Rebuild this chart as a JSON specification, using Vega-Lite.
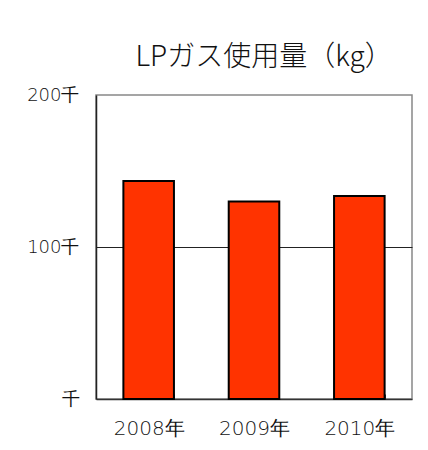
{
  "$schema": "https://vega.github.io/schema/vega-lite/v6.json",
  "autosize": {"type": "none"},
  "width": 316,
  "height": 304,
  "padding": {"left": 96, "top": 95, "right": 16, "bottom": 51},
  "background": "white",
  "title": {
    "text": "LPガス使用量（kg）",
    "font": "Noto Sans CJK JP",
    "fontSize": 28,
    "fontWeight": 300,
    "color": "#111",
    "anchor": "middle",
    "offset": 14,
    "dx": 10
  },
  "data": {
    "values": [
      {"year": "2008年", "usage_thousand_kg": 143.5},
      {"year": "2009年", "usage_thousand_kg": 130},
      {"year": "2010年", "usage_thousand_kg": 133.5}
    ]
  },
  "mark": {"type": "bar", "color": "#FF3300", "stroke": "black", "strokeWidth": 2},
  "encoding": {
    "x": {
      "field": "year",
      "type": "nominal",
      "sort": null,
      "scale": {"paddingInner": 0.52, "paddingOuter": 0.26},
      "axis": {
        "title": null,
        "labelAngle": 0,
        "labelFont": "DejaVu Sans",
        "labelFontSize": 20,
        "labelFontWeight": 200,
        "labelColor": "#111",
        "labelPadding": 24,
        "tickBand": "extent",
        "tickSize": -5,
        "tickColor": "#333",
        "domainColor": "#333",
        "domainWidth": 1.5,
        "grid": false
      }
    },
    "y": {
      "field": "usage_thousand_kg",
      "type": "quantitative",
      "scale": {"domain": [0, 200]},
      "axis": {
        "title": null,
        "values": [0, 100, 200],
        "labelExpr": "datum.value === 0 ? '千' : datum.value + '千'",
        "labelFont": "DejaVu Sans",
        "labelFontSize": 18,
        "labelFontWeight": 200,
        "labelColor": "#111",
        "labelPadding": 17,
        "ticks": false,
        "domainColor": "#222",
        "domainWidth": 1.5,
        "grid": true,
        "gridColor": {"condition": {"test": "datum.value === 100", "value": "#222"}, "value": "transparent"},
        "gridWidth": 1
      }
    }
  },
  "config": {
    "view": {"stroke": "#888", "strokeWidth": 1.5}
  }
}
